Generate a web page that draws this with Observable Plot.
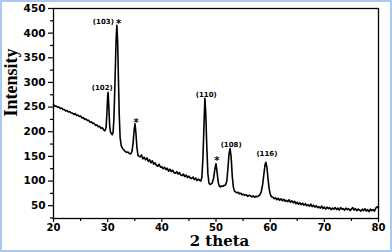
<!DOCTYPE html>
<html>
<head>
<meta charset="utf-8">
<script src="https://cdn.jsdelivr.net/npm/d3@7"></script>
<script src="https://cdn.jsdelivr.net/npm/@observablehq/plot@0.6"></script>
<style>
  html, body { margin: 0; padding: 0; background: white; }
  #chart svg { display: block; outline: 2px solid #a9c9ef; outline-offset: -2px; }
</style>
</head>
<body>
<div id="chart"></div>
<script>
const twoTheta = [
  20.00,20.25,20.50,20.75,21.00,21.25,21.50,21.75,22.00,22.25,22.50,22.75,23.00,23.25,23.50,23.75,
  24.00,24.25,24.50,24.75,25.00,25.25,25.50,25.75,26.00,26.25,26.50,26.75,27.00,27.25,27.50,27.75,
  28.00,28.25,28.50,28.75,29.00,29.25,29.50,29.70,29.85,30.00,30.08,30.20,30.35,30.50,30.70,30.85,
  31.00,31.15,31.35,31.55,31.70,31.85,32.00,32.15,32.30,32.50,32.75,33.00,33.25,33.50,33.75,34.00,
  34.25,34.50,34.70,34.90,35.05,35.20,35.40,35.60,35.80,36.00,36.25,36.50,36.75,37.00,37.25,37.50,
  37.75,38.00,38.25,38.50,38.75,39.00,39.25,39.50,39.75,40.00,40.25,40.50,40.75,41.00,41.25,41.50,
  41.75,42.00,42.25,42.50,42.75,43.00,43.25,43.50,43.75,44.00,44.25,44.50,44.75,45.00,45.25,45.50,
  45.75,46.00,46.25,46.50,46.75,47.00,47.20,47.40,47.60,47.80,47.95,48.10,48.30,48.50,48.70,48.90,
  49.10,49.30,49.55,49.80,50.00,50.20,50.40,50.60,50.80,51.00,51.25,51.50,51.75,52.00,52.20,52.40,
  52.60,52.80,53.00,53.20,53.40,53.60,53.85,54.10,54.35,54.60,54.85,55.10,55.35,55.60,55.85,56.10,
  56.35,56.60,56.85,57.10,57.35,57.60,57.85,58.10,58.35,58.60,58.85,59.05,59.20,59.40,59.60,59.80,
  60.00,60.25,60.50,60.75,61.00,61.25,61.50,61.75,62.00,62.25,62.50,62.75,63.00,63.25,63.50,63.75,
  64.00,64.25,64.50,64.75,65.00,65.25,65.50,65.75,66.00,66.25,66.50,66.75,67.00,67.25,67.50,67.75,
  68.00,68.25,68.50,68.75,69.00,69.25,69.50,69.75,70.00,70.25,70.50,70.75,71.00,71.25,71.50,71.75,
  72.00,72.25,72.50,72.75,73.00,73.25,73.50,73.75,74.00,74.25,74.50,74.75,75.00,75.25,75.50,75.75,
  76.00,76.25,76.50,76.75,77.00,77.25,77.50,77.75,78.00,78.25,78.50,78.75,79.00,79.25,79.50,79.75,
  80.00
];
const intensity = [
  255,252,252,250,250,247,248,245,245,242,243,240,241,238,238,235,
  237,233,234,231,232,228,229,225,226,223,223,219,220,217,217,213,
  214,210,211,207,208,204,202,208,235,272,280,255,215,200,196,194,
  199,225,300,385,416,380,300,230,188,172,166,163,160,158,159,156,
  155,160,178,205,216,200,168,152,150,149,153,145,148,143,147,140,
  143,137,141,134,137,132,130,134,128,129,125,128,123,126,120,124,
  119,122,117,116,119,114,117,112,111,114,109,112,107,110,106,105,
  108,103,106,101,104,101,100,108,150,220,268,240,170,115,96,93,
  94,96,105,125,135,118,98,90,88,90,89,91,92,100,125,155,
  166,148,110,88,80,78,76,77,74,75,72,73,71,72,69,71,
  70,68,70,67,69,68,70,72,78,92,115,133,138,128,105,85,
  74,68,67,64,66,62,65,61,64,60,63,59,61,58,62,57,
  60,56,59,54,57,53,56,52,55,51,54,50,52,49,53,48,
  51,47,50,46,48,45,49,44,47,43,47,44,46,42,45,43,
  46,42,45,41,46,43,44,41,45,42,44,40,43,46,41,44,
  40,43,41,39,43,40,44,39,42,38,43,40,42,39,45,48,
  46
];

const xTicks = [20, 30, 40, 50, 60, 70, 80];
const xMinor = [25, 35, 45, 55, 65, 75];
const yTicks = [50, 100, 150, 200, 250, 300, 350, 400, 450];
const yMinor = [25, 75, 125, 175, 225, 275, 325, 375, 425];

const peakLabels = ["(102)", "(103)", "(110)", "(108)", "(116)"];
const peakLabelX = [29.0, 29.2, 48.2, 52.8, 59.4];
const peakLabelY = [290, 423, 275, 174, 156];

const starLabels = ["*", "*", "*"];
const starX = [32.0, 35.25, 50.15];
const starY = [426, 225, 147];

const rows = twoTheta.map((t, i) => ({t, v: intensity[i]}));
const peaks = peakLabels.map((s, i) => ({s, x: peakLabelX[i], y: peakLabelY[i]}));
const stars = starLabels.map((s, i) => ({s, x: starX[i], y: starY[i]}));

const chart = Plot.plot({
  width: 392,
  height: 252,
  marginTop: 8,
  marginBottom: 34,
  marginLeft: 53,
  marginRight: 14,
  x: {domain: [20, 80]},
  y: {domain: [24, 450]},
  style: {fontFamily: "DejaVu Sans", fontWeight: "bold", fontSize: "10px", color: "black", background: "white"},
  marks: [
    Plot.axisY({ticks: yTicks, tickSize: 5, tickPadding: 3, label: null, fontSize: 10.5, fontWeight: "bold", stroke: "black", strokeWidth: 1.2}),
    Plot.axisY({ticks: yMinor, tickSize: 3, text: null, label: null, stroke: "black", strokeWidth: 1.2}),
    Plot.axisX({ticks: xTicks, tickSize: 4, tickPadding: 1.5, label: null, fontSize: 10, fontWeight: "bold", stroke: "black", strokeWidth: 1.2}),
    Plot.axisX({ticks: xMinor, tickSize: 3, text: null, label: null, stroke: "black", strokeWidth: 1.2}),
    Plot.frame({stroke: "black", strokeWidth: 1.3}),
    Plot.line(rows, {x: "t", y: "v", stroke: "black", strokeWidth: 1.6, strokeLinejoin: "round"}),
    Plot.text(peaks, {x: "x", y: "y", text: "s", fontSize: 7, fontWeight: "bold", fill: "black", fontFamily: "DejaVu Sans"}),
    Plot.text(stars, {x: "x", y: "y", text: "s", fontSize: 10, fontWeight: "bold", fill: "black", fontFamily: "DejaVu Sans", dy: 3}),
    Plot.text(["Intensity"], {frameAnchor: "left", text: d => d, rotate: -90, dx: -42, dy: 3, fontSize: 18, fontWeight: "bold", fontFamily: "Liberation Serif", fill: "black"}),
    Plot.text(["2 theta"], {frameAnchor: "bottom", text: d => d, dx: 3.5, dy: 27.5, fontSize: 15, fontWeight: "bold", fontFamily: "DejaVu Serif", fill: "black"})
  ]
});
document.getElementById("chart").appendChild(chart);
</script>
</body>
</html>
